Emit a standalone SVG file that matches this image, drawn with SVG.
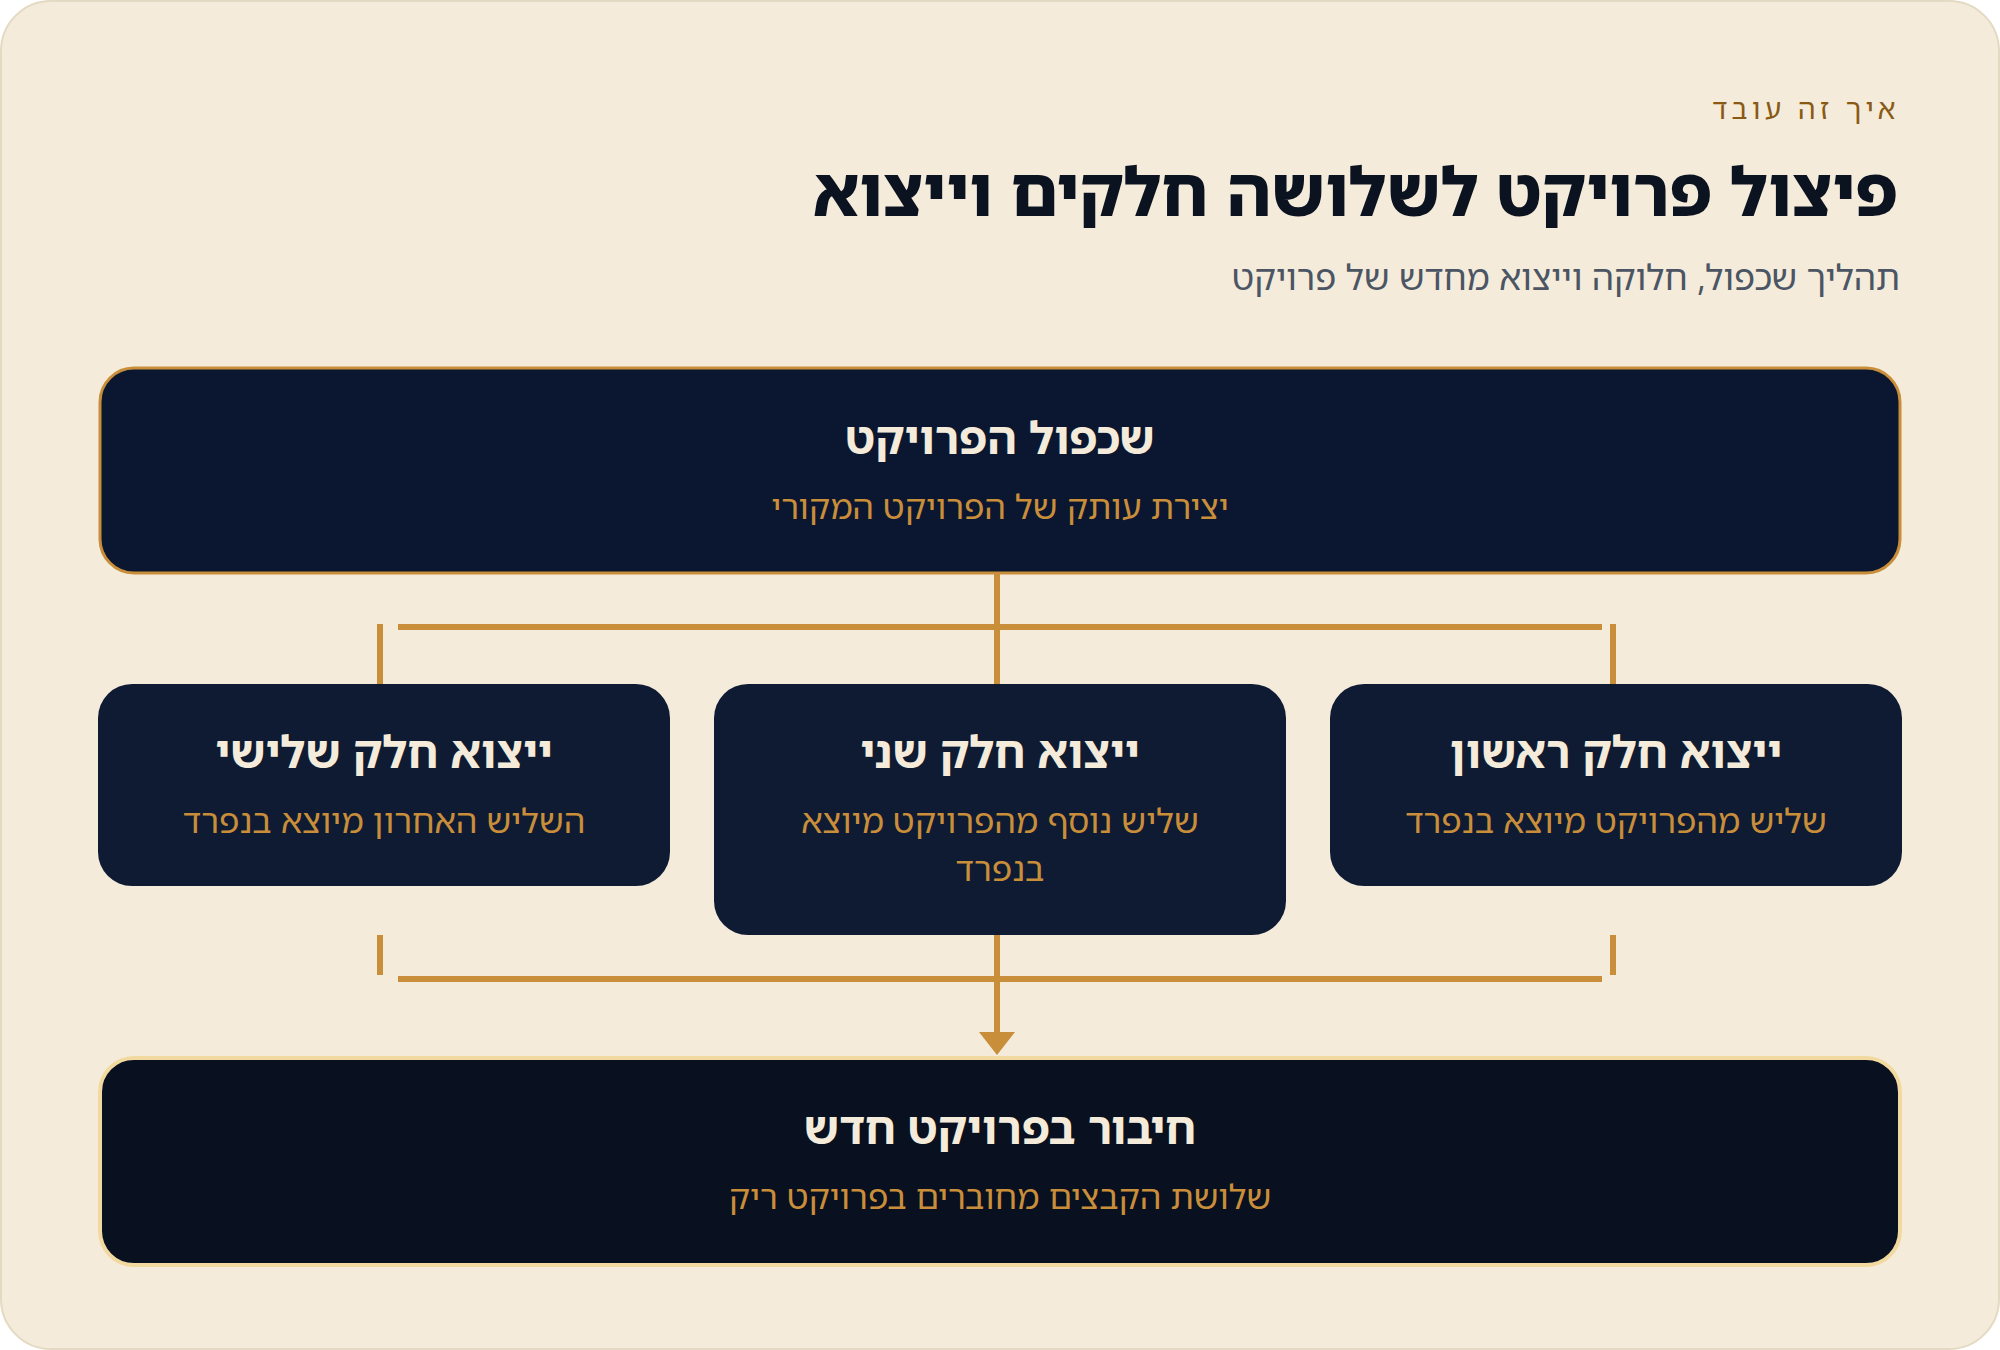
<svg xmlns="http://www.w3.org/2000/svg" width="2000" height="1350" viewBox="0 0 2000 1350">
<defs>
<style>
text{font-family:"Noto Sans Hebrew","Noto Sans","DejaVu Sans",sans-serif;direction:rtl}
.eyebrow{font-size:28px;fill:#8a5a14;letter-spacing:4.5px}
.title{font-size:67px;font-weight:800;fill:#0b1220}
.subtitle{font-size:35px;fill:#4b5563}
.ntitle{font-size:45px;font-weight:700;fill:#f4ebdb}
.nsub{font-size:34px;fill:#c98e3a}
.line{stroke:#c98e3a;stroke-width:6;fill:none}
</style>
</defs>
<rect x="1" y="1" width="1998" height="1348" rx="50" fill="#f4ebdb" stroke="#e4dac3" stroke-width="2"/>
<g id="header">
<text class="eyebrow" x="1900" y="119" text-anchor="start">איך זה עובד</text>
<text class="title" x="1898" y="216" text-anchor="start">פיצול פרויקט לשלושה חלקים וייצוא</text>
<text class="subtitle" x="1900" y="290" text-anchor="start">תהליך שכפול, חלוקה וייצוא מחדש של פרויקט</text>
</g>
<g id="connectors">
<line class="line" x1="997" y1="574" x2="997" y2="684"/>
<line class="line" x1="398" y1="627" x2="1602" y2="627"/>
<line class="line" x1="380" y1="624" x2="380" y2="684"/>
<line class="line" x1="1613" y1="624" x2="1613" y2="684"/>
<line class="line" x1="380" y1="935" x2="380" y2="975"/>
<line class="line" x1="1613" y1="935" x2="1613" y2="975"/>
<line class="line" x1="398" y1="979" x2="1602" y2="979"/>
<line class="line" x1="997" y1="935" x2="997" y2="1032"/>
<path d="M979,1032 L1015,1032 L997,1055 Z" fill="#c98e3a"/>
</g>
<g id="node-duplicate">
<rect x="100" y="368" width="1800" height="205" rx="34" fill="#0b1730" stroke="#c98e3a" stroke-width="3"/>
<text class="ntitle" x="1000" y="454" text-anchor="middle">שכפול הפרויקט</text>
<text class="nsub" x="1000" y="519" text-anchor="middle">יצירת עותק של הפרויקט המקורי</text>
</g>
<g id="node-part3">
<rect x="98" y="684" width="572" height="202" rx="34" fill="#0f1b33"/>
<text class="ntitle" x="384" y="768" text-anchor="middle">ייצוא חלק שלישי</text>
<text class="nsub" x="384" y="833" text-anchor="middle">השליש האחרון מיוצא בנפרד</text>
</g>
<g id="node-part2">
<rect x="714" y="684" width="572" height="251" rx="34" fill="#0f1b33"/>
<text class="ntitle" x="1000" y="768" text-anchor="middle">ייצוא חלק שני</text>
<text class="nsub" x="1000" y="833" text-anchor="middle">שליש נוסף מהפרויקט מיוצא</text>
<text class="nsub" x="1000" y="881" text-anchor="middle">בנפרד</text>
</g>
<g id="node-part1">
<rect x="1330" y="684" width="572" height="202" rx="34" fill="#0f1b33"/>
<text class="ntitle" x="1616" y="768" text-anchor="middle">ייצוא חלק ראשון</text>
<text class="nsub" x="1616" y="833" text-anchor="middle">שליש מהפרויקט מיוצא בנפרד</text>
</g>
<g id="node-combine">
<rect x="100" y="1058" width="1800" height="207" rx="34" fill="#09101f" stroke="#f2d9a0" stroke-width="4"/>
<text class="ntitle" x="1000" y="1144" text-anchor="middle">חיבור בפרויקט חדש</text>
<text class="nsub" x="1000" y="1209" text-anchor="middle">שלושת הקבצים מחוברים בפרויקט ריק</text>
</g>
</svg>
